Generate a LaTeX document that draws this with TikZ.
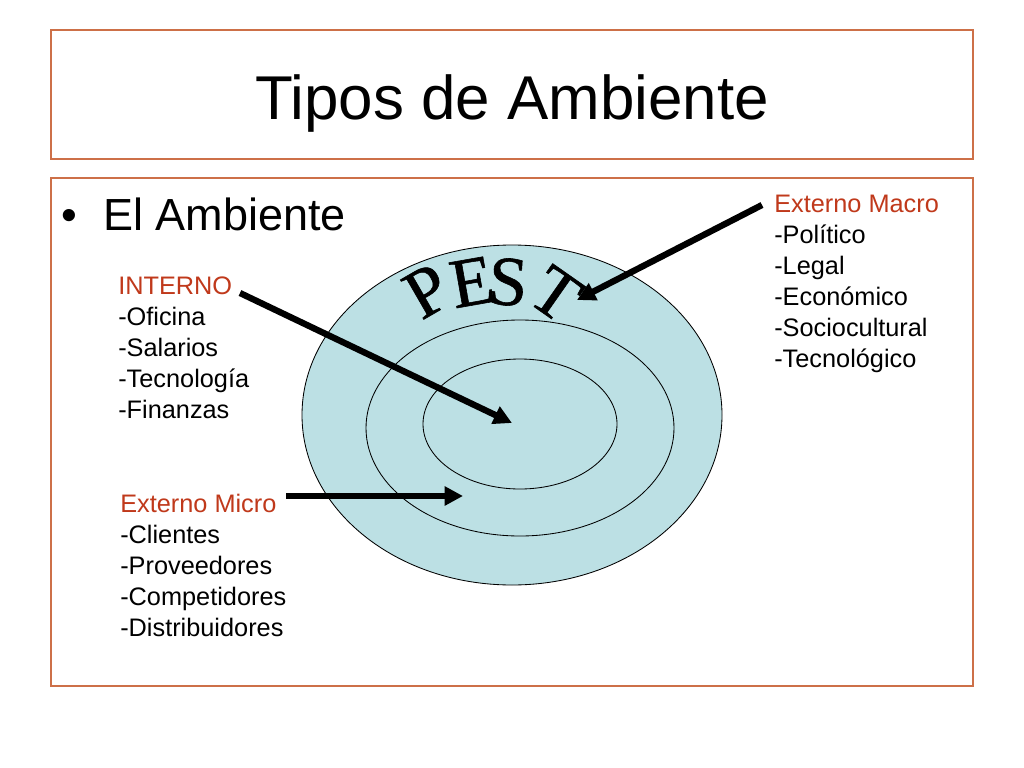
\documentclass[tikz,border=0pt]{standalone}
\usepackage{fontspec}
\setmainfont{Liberation Sans}
\newfontfamily\pestfont[FakeBold=0.8]{Liberation Serif}
\usetikzlibrary{arrows.meta}
\definecolor{framebrown}{RGB}{205,112,72}
\definecolor{labelred}{RGB}{192,57,27}
\definecolor{ringblue}{RGB}{188,224,228}

\begin{document}
\begin{tikzpicture}[x=0.025cm,y=-0.025cm,
    box/.style={draw=framebrown,line width=0.8pt},
    ring/.style={draw=black,fill=ringblue,line width=0.6pt},
    pointer/.style={line width=4.5pt,-{Triangle[length=13pt,width=13pt]}},
    lbl/.style={anchor=north west,inner sep=0pt,align=left,font=\fontsize{18}{22}\selectfont},
    pest/.style={font=\pestfont\fontsize{50}{50}\selectfont,inner sep=0pt,text=black}]
  \useasboundingbox[fill=white] (0,0) rectangle (1024,768);

  % slide frames
  \draw[box] (51,30) rectangle (973,159);
  \draw[box] (51,178) rectangle (973,686);

  \node[anchor=base,inner sep=0pt,font=\fontsize{44}{48}\selectfont] (title) at (512,120) {Tipos de Ambiente};
  \node[anchor=base west,inner sep=0pt,font=\fontsize{32}{36}\selectfont] (bullet) at (61,230) {•};
  \node[anchor=base west,inner sep=0pt,font=\fontsize{32}{36}\selectfont] (heading) at (103,230) {El Ambiente};

  % rings
  \draw[ring] (512,415) ellipse [x radius=210, y radius=170];
  \draw[ring] (520,428) ellipse [x radius=154, y radius=108];
  \draw[ring] (520,424) ellipse [x radius=97, y radius=65];

  \node[pest,rotate=30] (pestP) at (427,291) {P};
  \node[pest,rotate=10] (pestE) at (472,282) {E};
  \node[pest,rotate=-4] (pestS) at (508,282) {S};
  \node[pest,rotate=-35] (pestT) at (556,294) {T};

  % labels
  \node[lbl] (interno) at (118,277) {\textcolor{labelred}{INTERNO}\\-Oficina\\-Salarios\\-Tecnología\\-Finanzas};
  \node[lbl] (macro) at (774,195) {\textcolor{labelred}{Externo Macro}\\-Político\\-Legal\\-Económico\\-Sociocultural\\-Tecnológico};
  \node[lbl] (micro) at (120,494) {\textcolor{labelred}{Externo Micro}\\-Clientes\\-Proveedores\\-Competidores\\-Distribuidores};

  % arrows
  \coordinate (internoTail) at (240,293);
  \coordinate (coreTip) at (512,423);
  \coordinate (macroTail) at (762,205);
  \coordinate (pestTip) at (577,300);
  \coordinate (microTail) at (286,496);
  \coordinate (microTip) at (463,496);
  \draw[pointer] (internoTail) -- (coreTip);
  \draw[pointer] (macroTail) -- (pestTip);
  \draw[pointer] (microTail) -- (microTip);
\end{tikzpicture}
\end{document}
